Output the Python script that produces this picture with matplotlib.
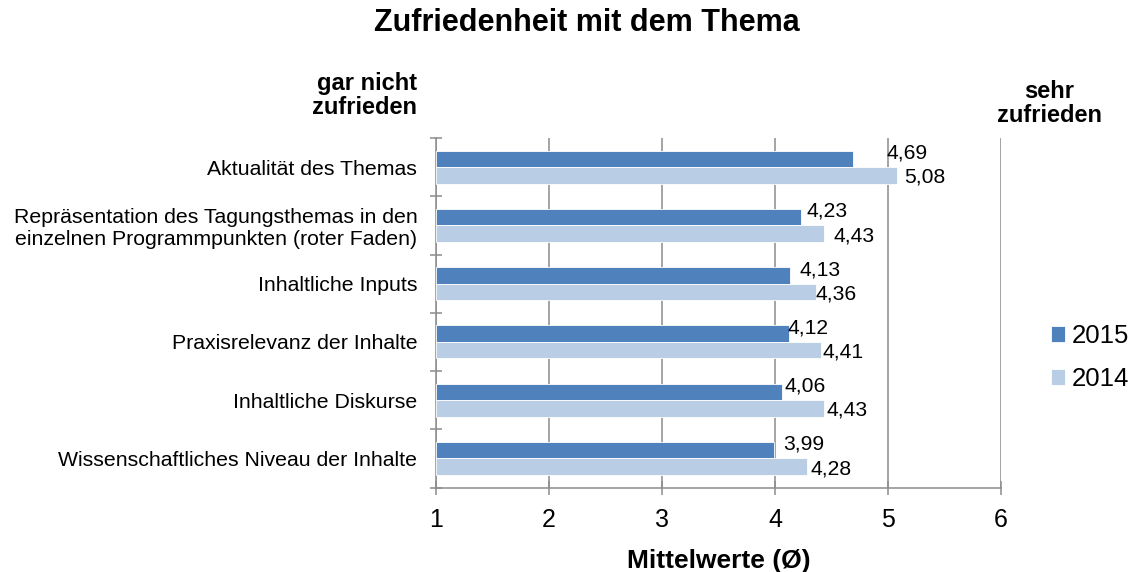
import numpy as np
import matplotlib.pyplot as plt

plt.rcParams['font.family'] = ['Liberation Sans', 'DejaVu Sans']

# data
categories = [
    "Aktualität des Themas",
    "Repräsentation des Tagungsthemas in den\neinzelnen Programmpunkten (roter Faden)",
    "Inhaltliche Inputs",
    "Praxisrelevanz der Inhalte",
    "Inhaltliche Diskurse",
    "Wissenschaftliches Niveau der Inhalte",
]
v2015 = [4.69, 4.23, 4.13, 4.12, 4.06, 3.99]
v2014 = [5.08, 4.43, 4.36, 4.41, 4.43, 4.28]
xticks = [1, 2, 3, 4, 5, 6]

# label nudges (x in value units), as placed in the original
nudge2015 = [0.30, 0.05, 0.09, -0.01, 0.02, 0.085]
nudge2014 = [0.06, 0.09, 0.0, 0.01, 0.03, 0.03]

c2015 = '#4F81BD'
c2014 = '#B9CDE5'
grey = '#8C8C8C'

fig = plt.figure(figsize=(11.35, 5.72), dpi=100)
ax = fig.add_axes([436/1135, 1 - 487.5/572, (1001 - 436)/1135, (487.5 - 138)/572])

y = np.arange(len(categories))
h = 0.283
a = np.array(v2015)
b = np.array(v2014)
ax.barh(y - h/2, a - 1, left=1, height=h, color=c2015, edgecolor='white', linewidth=0.6, label='2015', zorder=3)
ax.barh(y + h/2, b - 1, left=1, height=h, color=c2014, edgecolor='white', linewidth=0.6, label='2014', zorder=3)

for i in range(len(categories)):
    ax.text(a[i] + nudge2015[i], y[i] - h/2 - 0.1, f"{a[i]:.2f}".replace('.', ','),
            ha='left', va='center', fontsize=15.2, zorder=4)
    ax.text(b[i] + nudge2014[i], y[i] + h/2 + 0.035, f"{b[i]:.2f}".replace('.', ','),
            ha='left', va='center', fontsize=15.2, zorder=4)

ax.set_xlim(1, 6)
ax.set_ylim(len(categories) - 0.5, -0.5)

ax.set_xticks(xticks)
ax.set_xticklabels([str(t) for t in xticks], fontsize=18)
ax.tick_params(axis='x', direction='inout', length=10, width=1.1, color=grey, pad=10)

ax.set_yticks(np.arange(len(categories) + 1) - 0.5)
ax.set_yticklabels([])
ax.tick_params(axis='y', which='major', direction='inout', length=9, width=1.1, color=grey)
ax.set_yticks(y, minor=True)
ax.set_yticklabels(categories, minor=True, fontsize=15.3, linespacing=1.2)
ax.tick_params(axis='y', which='minor', length=0, pad=13.5)

ax.grid(axis='x', color=grey, linewidth=1.1)
ax.set_axisbelow(True)
for s in ['top', 'right']:
    ax.spines[s].set_visible(False)
for s in ['left', 'bottom']:
    ax.spines[s].set_color(grey)
    ax.spines[s].set_linewidth(1.1)

ax.set_xlabel('Mittelwerte (Ø)', fontsize=19, fontweight='bold', labelpad=12)

fig.text(587/1135, 1 - 23/572, 'Zufriedenheit mit dem Thema', ha='center', va='center',
         fontsize=22, fontweight='bold')
fig.text(417/1135, 1 - 95.5/572, 'gar nicht\nzufrieden', ha='right', va='center',
         multialignment='right', fontsize=17, fontweight='bold', linespacing=1.1)
fig.text(1049/1135, 1 - 103.5/572, 'sehr\nzufrieden', ha='center', va='center',
         multialignment='center', fontsize=17, fontweight='bold', linespacing=1.1)

fig.legend(loc='center left', bbox_to_anchor=(1051/1135, 1 - 357.5/572), frameon=False,
           fontsize=18.5, handlelength=0.55, handleheight=0.55, handletextpad=0.25,
           labelspacing=0.75, borderpad=0, borderaxespad=0)

fig.savefig('out.png', dpi=100)
